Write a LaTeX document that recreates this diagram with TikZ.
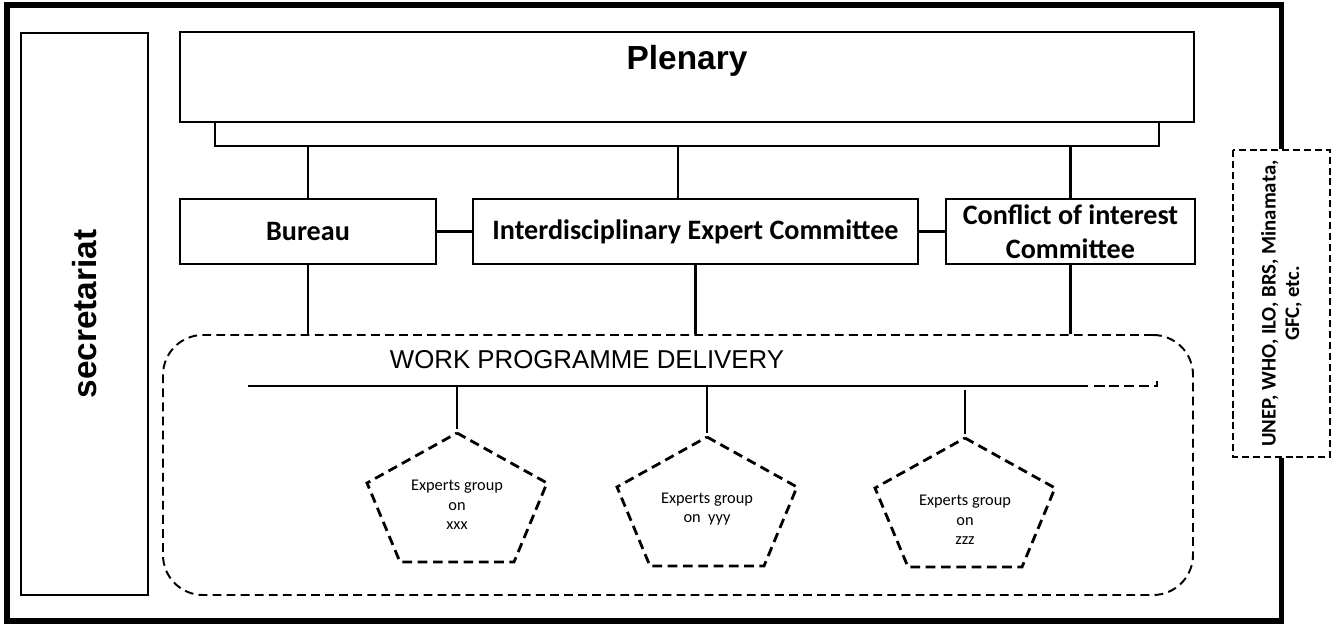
\documentclass[tikz,border=0pt]{standalone}
\usepackage{fontspec}
\setmainfont{Carlito}
\newfontfamily\arialfont{Liberation Sans}
\usepackage{tikz}
\pgfdeclarelayer{nodelayer}
\pgfdeclarelayer{edgelayer}
\pgfsetlayers{edgelayer,nodelayer,main}
\tikzstyle{box}=[fill=white, draw=black, shape=rectangle, line width=1.6pt, minimum height=1.3cm, inner sep=0pt, align=center, font=\fontsize{16}{19.5}\selectfont\bfseries]
\tikzstyle{big box}=[fill=white, draw=black, shape=rectangle, line width=1.6pt, inner sep=0pt, font=\arialfont\fontsize{19}{22}\selectfont\bfseries]
\tikzstyle{partner box}=[fill=white, draw=black, shape=rectangle, line width=1.6pt, dash pattern=on 4pt off 2.2pt, inner sep=0pt, align=center, font=\fontsize{11.8}{13.5}\selectfont\bfseries]
\tikzstyle{delivery box}=[draw=black, shape=rectangle, line width=1.1pt, dash pattern=on 5pt off 3pt, rounded corners=0.8cm]
\tikzstyle{group}=[line width=1.6pt, dash pattern=on 5.5pt off 3.2pt]
\tikzstyle{group text}=[inner sep=0pt, align=center, font=\fontsize{9.3}{11.2}\selectfont]
\tikzstyle{edge}=[line width=1.6pt]
\tikzstyle{frame}=[line width=3.4pt]

\begin{document}
\begin{tikzpicture}
	\useasboundingbox (0,0) rectangle (26.72,12.5);
	\begin{pgfonlayer}{nodelayer}
		\node [style=big box, minimum width=20.28cm, minimum height=1.8cm, label={[anchor=north, yshift=-0.28cm, inner sep=0pt, font=\arialfont\fontsize{19}{22}\selectfont\bfseries]north:Plenary}] (0) at (13.74, 10.96) {};
		\node [style=box, minimum width=5.12cm] (1) at (6.16, 7.87) {Bureau};
		\node [style=box, minimum width=8.9cm] (2) at (13.91, 7.87) {Interdisciplinary Expert Committee};
		\node [style=box, minimum width=4.98cm] (3) at (21.41, 7.87) {Conflict of interest\\Committee};
		\node [style=big box, rotate=90, minimum width=11.24cm, minimum height=2.54cm] (4) at (1.69, 6.22) {secretariat};
		\node [style=partner box, rotate=90, minimum width=6.14cm, minimum height=1.94cm] (5) at (25.63, 6.43) {UNEP, WHO, ILO, BRS, Minamata,\\GFC, etc.};
		\node [style=delivery box, minimum width=20.6cm, minimum height=5.2cm] (6) at (13.56, 3.2) {};
		\node [inner sep=0pt, font=\arialfont\fontsize{14.7}{17}\selectfont] (7) at (11.74, 5.31) {WORK PROGRAMME DELIVERY};
		\node [style=group text] (8) at (9.14, 2.4) {Experts group\\on\\xxx};
		\node [style=group text] (9) at (14.14, 2.32) {Experts group\\on~~yyy};
		\node [style=group text] (10) at (19.3, 2.1) {Experts group\\on\\zzz};
	\end{pgfonlayer}
	\begin{pgfonlayer}{edgelayer}
		\coordinate (11) at (13.74, 9.58);
		\coordinate (12) at (4.96, 4.78);
		\coordinate (13) at (21.76, 4.78);
		\coordinate (14) at (23.14, 4.78);
		\coordinate (15) at (9.14, 3.84);
		\coordinate (16) at (14.14, 3.76);
		\coordinate (17) at (19.3, 3.74);
		% outer frame
		\draw [style=frame] (5.east) |- (0.14, 12.4) -- (0.14, 0.08) -| (5.west);
		% plenary bar
		\draw [style=edge] (4.3, 10.06) |- (11) -| (23.18, 10.06);
		\draw [style=edge] (1.north) to (1.north |- 11);
		\draw [style=edge] ([xshift=-0.35cm]2.north) to ([xshift=-0.35cm]2.north |- 11);
		\draw [style=edge] (3.north) to (3.north |- 11);
		\draw [style=edge] (1) to (2);
		\draw [style=edge] (2) to (3);
		\draw [style=edge] (1.south) to (1.south |- 6.north);
		\draw [style=edge] (2.south) to (2.south |- 6.north);
		\draw [style=edge] (3.south) to (3.south |- 6.north);
		% delivery line
		\draw [style=edge] (12) to (13);
		\draw [style=edge, dash pattern=on 6pt off 2.5pt] ([xshift=0.12cm]13) -- (14) -- ++(0, 0.1);
		\draw [style=edge] (15 |- 12) to ([yshift=0.08cm]15);
		\draw [style=edge] (16 |- 12) to ([yshift=0.08cm]16);
		\draw [style=edge] ([yshift=-0.08cm]17 |- 12) to ([yshift=0.08cm]17);
		% expert groups
		\draw [style=group] (15) -- ++(1.8, -1) -- ++(-0.66, -1.58) -- ++(-2.28, 0) -- ++(-0.66, 1.58) -- cycle;
		\draw [style=group] (16) -- ++(1.8, -1) -- ++(-0.66, -1.58) -- ++(-2.28, 0) -- ++(-0.66, 1.58) -- cycle;
		\draw [style=group] (17) -- ++(1.8, -1) -- ++(-0.66, -1.58) -- ++(-2.28, 0) -- ++(-0.66, 1.58) -- cycle;
	\end{pgfonlayer}
\end{tikzpicture}
\end{document}
